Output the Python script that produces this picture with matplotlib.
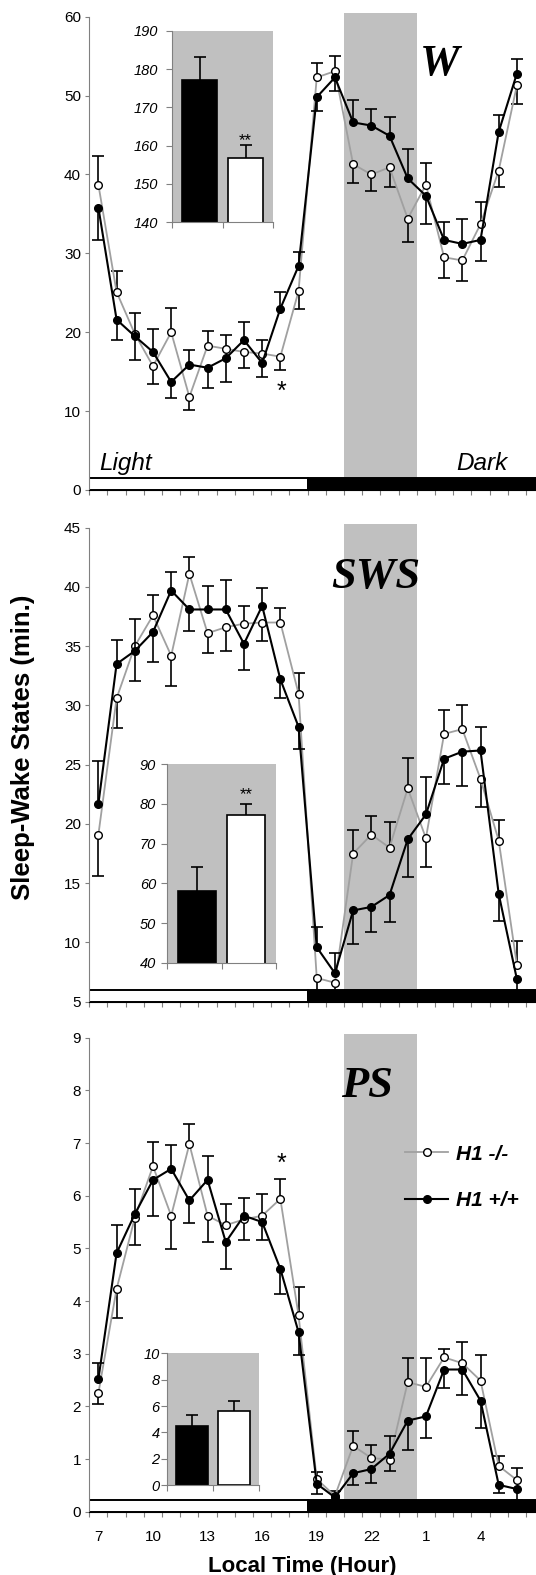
import matplotlib.pyplot as plt
from matplotlib.lines import Line2D
import numpy as np

plt.rcParams['font.family'] = ['Liberation Sans', 'DejaVu Sans']

# hourly bins, 7 h to 6 h next day
hours = np.arange(7, 31)
tick_hours = [7, 10, 13, 16, 19, 22, 25, 28]
tick_labels = ['7', '10', '13', '16', '19', '22', '1', '4']

# Wake (min/h); errors are one-sided SEM (+ up, - down)
w_ko = [38.7, 25.1, 19.8, 15.7, 20.0, 11.8, 18.3, 17.9, 17.5, 17.3, 16.9, 25.2,
        52.3, 53.1, 41.3, 40.0, 40.9, 34.4, 38.7, 29.5, 29.1, 33.7, 40.5, 51.3]
w_ko_err = [3.7, 2.7, -3.3, -2.2, 3.1, -1.7, 1.9, 1.8, -2.0, 1.7, -1.7, -2.3,
            1.8, 1.9, -2.4, -2.1, -2.5, -3.0, 2.7, -2.6, -2.6, 2.8, -2.1, -2.4]
w_wt = [35.8, 21.6, 19.5, 17.5, 13.7, 15.9, 15.5, 16.7, 19.0, 16.1, 23.0, 28.4,
        49.8, 52.3, 46.6, 46.2, 44.9, 39.5, 37.3, 31.7, 31.2, 31.7, 45.4, 52.8]
w_wt_err = [-4.1, -2.6, 3.0, 2.9, -2.0, 1.9, -2.6, -3.0, 2.3, -1.8, 2.1, 1.8,
            -1.7, -1.7, 2.9, 2.1, 2.4, 3.7, -3.6, 2.3, 3.1, -2.7, 2.1, 1.8]

# Slow-wave sleep
sws_ko = [19.1, 30.6, 35.0, 37.6, 34.2, 41.1, 36.1, 36.6, 36.9, 37.0, 37.0, 31.0,
          7.0, 6.6, 17.5, 19.1, 18.0, 23.0, 18.8, 27.6, 28.0, 23.8, 18.6, 8.1]
sws_ko_err = [-3.5, -2.5, -2.9, 1.7, -2.6, 1.4, -1.7, -2.0, 1.5, -1.6, 1.2, 1.7,
              -1.4, -1.1, 2.0, 1.6, 2.2, 2.6, -2.4, 2.0, 2.0, -2.4, 1.7, 2.0]
sws_wt = [21.7, 33.5, 34.6, 36.2, 39.7, 38.1, 38.1, 38.1, 35.2, 38.4, 32.2, 28.2,
          9.6, 7.4, 12.7, 13.0, 14.0, 18.7, 20.8, 25.5, 26.1, 26.2, 14.1, 6.9]
sws_wt_err = [3.6, 2.0, 2.7, -2.5, 1.6, -1.8, 2.0, 2.5, -2.2, 1.5, -1.6, -1.9,
              1.7, 1.7, -2.8, -2.1, -2.3, -3.2, 3.2, -2.1, -2.9, 2.0, -2.3, -1.0]

# Paradoxical sleep
ps_ko = [2.25, 4.23, 5.58, 6.56, 5.62, 6.98, 5.62, 5.44, 5.55, 5.62, 5.94, 3.73,
         0.62, 0.30, 1.25, 1.02, 0.99, 2.46, 2.37, 2.93, 2.82, 2.49, 0.87, 0.60]
ps_ko_err = [-0.21, -0.55, -0.51, 0.46, -0.63, 0.39, -0.49, 0.40, -0.39, 0.41, 0.37, 0.54,
             0.14, 0.10, 0.28, 0.24, -0.22, 0.46, 0.55, 0.16, 0.40, 0.49, 0.19, 0.23]
ps_wt = [2.52, 4.91, 5.65, 6.30, 6.51, 5.91, 6.30, 5.12, 5.62, 5.50, 4.61, 3.41,
         0.53, 0.27, 0.73, 0.81, 1.10, 1.73, 1.81, 2.70, 2.70, 2.11, 0.51, 0.43]
ps_wt_err = [0.31, 0.53, 0.48, -0.68, 0.45, -0.43, 0.46, -0.52, 0.33, -0.34, -0.48, -0.43,
             -0.20, -0.15, -0.22, -0.27, 0.34, -0.55, -0.42, -0.36, -0.48, -0.52, -0.15, -0.20]

# 4-h totals during the dark-onset window (inset bars): [H1 +/+, H1 -/-]
w_total = [177.2, 156.8]
w_total_err = [6.1, 3.3]
sws_total = [58.1, 77.3]
sws_total_err = [5.9, 2.8]
ps_total = [4.48, 5.64]
ps_total_err = [0.81, 0.72]

GRAY_BAND = '#c0c0c0'
KO_LINE = '#a0a0a0'
AX_GRAY = '#808080'

fig = plt.figure(figsize=(5.36, 15.75), dpi=100)

ax_w = fig.add_axes([0.1666, 0.68889, 0.8334, 0.3005])
ax_s = fig.add_axes([0.1666, 0.36400, 0.8334, 0.30095])
ax_p = fig.add_axes([0.1666, 0.04019, 0.8334, 0.30095])


def errs(ax, x, y, e, z):
    y = np.asarray(y)
    tips = y + np.asarray(e)
    ax.vlines(x, y, tips, colors='k', lw=1.2, zorder=z)
    ax.plot(x, tips, ls='none', marker='_', ms=8, mew=1.2, color='k', zorder=z)


def panel(ax, ko, ko_err, wt, wt_err, ylim, yticks, show_x):
    ax.set_xlim(6.5, 31.05)
    ax.set_ylim(*ylim)
    ax.axvspan(20.5, 24.5, ymin=0, ymax=1.007, color=GRAY_BAND, lw=0, zorder=0, clip_on=False)
    ax.axvspan(6.5, 18.5, ymin=0, ymax=0.025, facecolor='white', edgecolor='k', lw=1.4, zorder=1)
    ax.axvspan(18.5, 31.5, ymin=0, ymax=0.025, facecolor='k', edgecolor='k', lw=1.4, zorder=1)

    errs(ax, hours, ko, ko_err, 2)
    ax.plot(hours, ko, color=KO_LINE, lw=1.3, marker='o', ms=5.5, mfc='white',
            mec='k', mew=1.0, zorder=3)
    errs(ax, hours, wt, wt_err, 4)
    ax.plot(hours, wt, color='k', lw=1.5, marker='o', ms=5.5, mfc='k',
            mec='k', mew=1.0, zorder=5)

    for s in ['top', 'right']:
        ax.spines[s].set_visible(False)
    ax.spines['left'].set_color(AX_GRAY)
    ax.spines['bottom'].set_color('k')
    ax.set_yticks(yticks)
    ax.tick_params(axis='y', direction='out', length=3, color=AX_GRAY, labelsize=11, pad=3)
    ax.set_xticks(np.arange(6.5, 31, 1.0))
    ax.tick_params(axis='x', which='major', direction='out', length=3.5, color=AX_GRAY,
                   labelbottom=False)
    ax.set_xticks(tick_hours, minor=True)
    if show_x:
        ax.set_xticklabels(tick_labels, minor=True)
        ax.tick_params(axis='x', which='minor', length=0, labelsize=11, pad=13)
    else:
        ax.tick_params(axis='x', which='minor', length=0, labelbottom=False)


def inset(rect, vals, err, ylim, yticks, pad, stars=None):
    ia = fig.add_axes(rect, facecolor=GRAY_BAND)
    pos = [0.04, 0.95]
    ia.bar(pos, vals, width=0.7, color=['k', 'white'], edgecolor='k', lw=1.2, zorder=2)
    tops = np.asarray(vals) + np.asarray(err)
    ia.vlines(pos, vals, tops, colors='k', lw=1.2, zorder=3)
    ia.plot(pos, tops, ls='none', marker='_', ms=9, mew=1.2, color='k', zorder=3)
    ia.set_xlim(-0.5, 1.5)
    ia.set_ylim(*ylim)
    ia.set_yticks(yticks)
    ia.set_yticklabels([str(t) for t in yticks], fontstyle='italic', fontsize=10.5)
    ia.set_xticks([-0.5, 0.5, 1.5])
    ia.set_xticklabels([])
    ia.tick_params(axis='both', direction='out', length=4, color=AX_GRAY)
    ia.tick_params(axis='y', pad=pad)
    for s in ['top', 'right']:
        ia.spines[s].set_visible(False)
    for s in ['left', 'bottom']:
        ia.spines[s].set_color(AX_GRAY)
    if stars is not None:
        ia.text(pos[1], stars, '**', ha='center', va='baseline', fontsize=12)
    return ia


panel(ax_w, w_ko, w_ko_err, w_wt, w_wt_err, (0, 60), np.arange(0, 61, 10), False)
panel(ax_s, sws_ko, sws_ko_err, sws_wt, sws_wt_err, (5, 45), np.arange(5, 46, 5), False)
panel(ax_p, ps_ko, ps_ko_err, ps_wt, ps_wt_err, (0, 9), np.arange(0, 10, 1), True)

title_font = dict(family='Liberation Serif', weight='bold', style='italic', size=32)
ax_w.text(25.75, 52.6, 'W', ha='center', va='baseline', **title_font)
ax_s.text(22.24, 39.9, 'SWS', ha='center', va='baseline', **title_font)
ax_p.text(21.78, 7.88, 'PS', ha='center', va='baseline', **title_font)

ax_w.text(7.03, 2.5, 'Light', ha='left', va='baseline', fontsize=17.5, style='italic')
ax_w.text(29.5, 2.5, 'Dark', ha='right', va='baseline', fontsize=17.5, style='italic')

ax_w.text(17.07, 11.6, '*', ha='center', va='baseline', fontsize=18)
ax_p.text(17.07, 6.47, '*', ha='center', va='baseline', fontsize=18)

inset([0.3215, 0.8589, 0.1884, 0.1215], w_total, w_total_err, (140, 190),
      list(range(140, 191, 10)), 6, stars=160.1)
inset([0.3121, 0.38876, 0.2028, 0.1260], sws_total, sws_total_err, (40, 90),
      list(range(40, 91, 10)), 4, stars=81.1)
inset([0.3121, 0.05714, 0.1716, 0.0836], ps_total, ps_total_err, (0, 10),
      list(range(0, 11, 2)), 1.5)

handles = [
    Line2D([], [], color=KO_LINE, lw=1.3, marker='o', ms=5.5, mfc='white', mec='k'),
    Line2D([], [], color='k', lw=1.5, marker='o', ms=5.5, mfc='k', mec='k'),
]
ax_p.legend(handles, ['H1 -/-', 'H1 +/+'], loc='center left',
            bbox_to_anchor=(0.7067, 0.705), frameon=False, borderpad=0,
            borderaxespad=0, handlelength=2.07, handletextpad=0.38,
            labelspacing=1.33, prop=dict(weight='bold', style='italic', size=15))

fig.text(0.0429, 0.5257, 'Sleep-Wake States (min.)', rotation=90, ha='center',
         va='center', fontsize=18.5, fontweight='bold')
fig.text(0.563, 0.0021, 'Local Time (Hour)', ha='center', va='baseline',
         fontsize=16, fontweight='bold')

fig.savefig('out.png', dpi=100)
